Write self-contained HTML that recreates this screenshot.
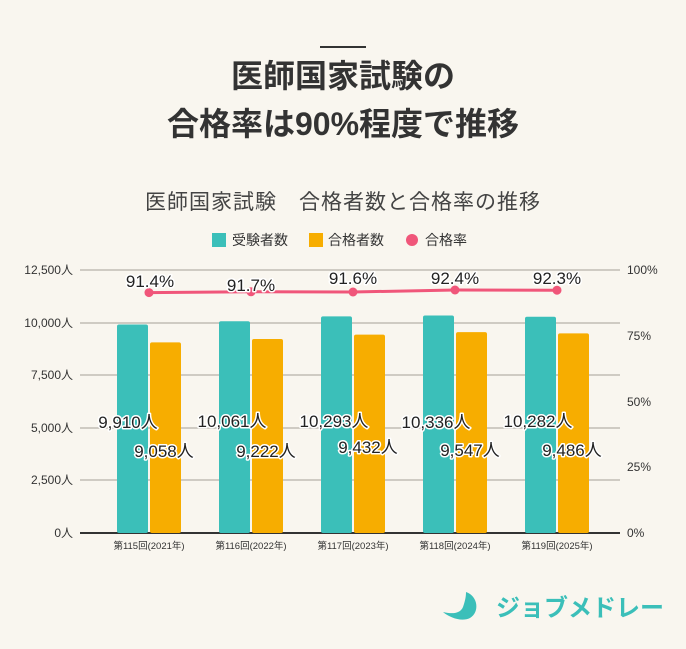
<!DOCTYPE html>
<html><head><meta charset="utf-8"><style>
body{margin:0;width:686px;height:644px;background:#f9f6ef;overflow:hidden;font-family:"Liberation Sans","Noto Sans CJK JP",sans-serif;color:#333}
</style></head><body>
<svg width="686" height="644" xmlns="http://www.w3.org/2000/svg" font-family="Liberation Sans, Noto Sans CJK JP, sans-serif">
<rect width="686" height="644" fill="#f9f6ef"/>
<rect x="320" y="46" width="46" height="2" fill="#333"/>
<text x="343" y="87" text-anchor="middle" font-size="32" font-weight="bold" fill="#333">医師国家試験の</text>
<text x="343" y="135" text-anchor="middle" font-size="32" font-weight="bold" fill="#333">合格率は90%程度で推移</text>
<text x="343" y="209" text-anchor="middle" font-size="21" letter-spacing="1" fill="#444">医師国家試験　合格者数と合格率の推移</text>
<rect x="212" y="233" width="14" height="14" fill="#3bbfb9"/><text x="232" y="245" font-size="14" fill="#333">受験者数</text>
<rect x="309" y="233" width="14" height="14" fill="#f7ad00"/><text x="328" y="245" font-size="14" fill="#333">合格者数</text>
<circle cx="412" cy="240" r="6" fill="#f0567a"/><text x="425" y="245" font-size="14" fill="#333">合格率</text>
<g stroke="#cfcbc3" stroke-width="2">
<line x1="80" y1="270" x2="620" y2="270"/><line x1="80" y1="323" x2="620" y2="323"/><line x1="80" y1="375" x2="620" y2="375"/><line x1="80" y1="428" x2="620" y2="428"/><line x1="80" y1="480" x2="620" y2="480"/>
</g>
<line x1="80" y1="533" x2="620" y2="533" stroke="#333" stroke-width="2"/>
<g font-size="12" fill="#333" text-anchor="end">
<text x="73" y="274">12,500人</text><text x="73" y="327">10,000人</text><text x="73" y="379">7,500人</text><text x="73" y="432">5,000人</text><text x="73" y="484">2,500人</text><text x="73" y="537">0人</text>
</g>
<g font-size="12" fill="#333">
<text x="627" y="274">100%</text><text x="627" y="340">75%</text><text x="627" y="406">50%</text><text x="627" y="471">25%</text><text x="627" y="537">0%</text>
</g>
<g fill="#3bbfb9">
<rect x="117" y="324.5" width="31" height="208.5" rx="2"/>
<rect x="219" y="321.3" width="31" height="211.7" rx="2"/>
<rect x="321" y="316.4" width="31" height="216.6" rx="2"/>
<rect x="423" y="315.5" width="31" height="217.5" rx="2"/>
<rect x="525" y="316.7" width="31" height="216.3" rx="2"/>
</g>
<g fill="#f7ad00">
<rect x="150" y="342.4" width="31" height="190.6" rx="2"/>
<rect x="252" y="339" width="31" height="194" rx="2"/>
<rect x="354" y="334.6" width="31" height="198.4" rx="2"/>
<rect x="456" y="332.1" width="31" height="200.9" rx="2"/>
<rect x="558" y="333.4" width="31" height="199.6" rx="2"/>
</g>
<g font-size="9.5" fill="#333" text-anchor="middle">
<text x="149" y="549">第115回(2021年)</text><text x="251" y="549">第116回(2022年)</text><text x="353" y="549">第117回(2023年)</text><text x="455" y="549">第118回(2024年)</text><text x="557" y="549">第119回(2025年)</text>
</g>
<polyline points="149,292.6 251,291.8 353,292 455,290 557,290.2" fill="none" stroke="#f0567a" stroke-width="3"/>
<g fill="#f0567a"><circle cx="149" cy="292.6" r="4.5"/><circle cx="251" cy="291.8" r="4.5"/><circle cx="353" cy="292" r="4.5"/><circle cx="455" cy="290" r="4.5"/><circle cx="557" cy="290.2" r="4.5"/></g>
<g font-size="17" fill="#222" text-anchor="middle" stroke="#fff" stroke-width="3" paint-order="stroke" stroke-linejoin="round">
<text x="150" y="287">91.4%</text><text x="251" y="291">91.7%</text><text x="353" y="284">91.6%</text><text x="455" y="284">92.4%</text><text x="557" y="284">92.3%</text>
<text x="128" y="428">9,910人</text><text x="232" y="427">10,061人</text><text x="334" y="427">10,293人</text><text x="436" y="428">10,336人</text><text x="538" y="427">10,282人</text>
<text x="164" y="457">9,058人</text><text x="266" y="457">9,222人</text><text x="368" y="453">9,432人</text><text x="470" y="456">9,547人</text><text x="572" y="456">9,486人</text>
</g>
<path d="M466,592 C478,596 480,612 470,618 C462,622 450,618 443,612 C452,614 460,614 463,607 C465,601 466,597 466,592 Z" fill="#3bbfb9"/>
<text x="496" y="616" font-size="24" font-weight="bold" fill="#3bbfb9">ジョブメドレー</text>
</svg>
</body></html>
